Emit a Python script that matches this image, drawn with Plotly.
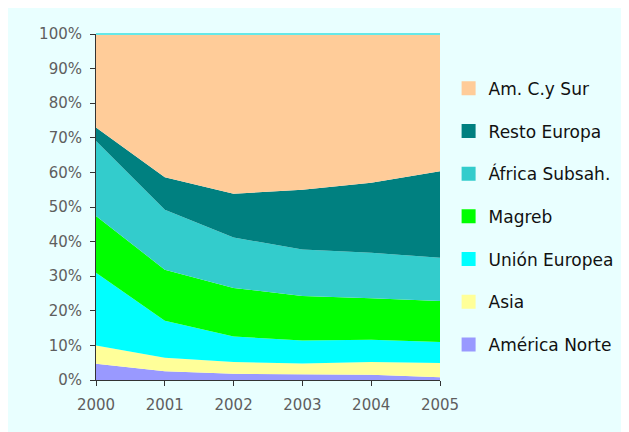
import plotly.graph_objects as go

years = [2000, 2001, 2002, 2003, 2004, 2005]

# shares per origin (%), bottom of the stack first
america_norte = [4.7, 2.5, 1.8, 1.6, 1.5, 0.8]
asia = [5.3, 3.9, 3.4, 3.2, 3.7, 4.1]
union_europea = [21.0, 10.7, 7.4, 6.6, 6.4, 6.1]
magreb = [16.4, 14.8, 14.0, 12.9, 12.0, 11.8]
africa_subsah = [21.7, 17.3, 14.6, 13.4, 13.2, 12.5]
resto_europa = [3.9, 9.4, 12.6, 17.3, 20.2, 25.0]
am_cy_sur = [27.0, 41.4, 46.2, 45.0, 43.0, 39.7]

series = [
    ("América Norte", america_norte, "#9999ff"),
    ("Asia", asia, "#ffff99"),
    ("Unión Europea", union_europea, "#00ffff"),
    ("Magreb", magreb, "#00ff00"),
    ("África Subsah.", africa_subsah, "#33cccc"),
    ("Resto Europa", resto_europa, "#008080"),
    ("Am. C.y Sur", am_cy_sur, "#ffcc99"),
]

fig = go.Figure()

for name, values, color in series:
    fig.add_trace(
        go.Scatter(
            x=years,
            y=values,
            name=name,
            mode="lines",
            stackgroup="one",
            groupnorm="percent",
            line={"width": 0, "color": color},
            fillcolor=color,
            showlegend=False,
        )
    )

# square legend entries, top of the stack listed first
for name, values, color in reversed(series):
    fig.add_trace(
        go.Scatter(
            x=[None],
            y=[None],
            name=name,
            mode="markers",
            marker={"symbol": "square", "size": 14, "color": color},
            legendgroup=name,
            showlegend=True,
        )
    )

# top edge line of the plot area
fig.add_shape(
    type="line", xref="paper", yref="paper",
    x0=0, x1=1, y0=1, y1=1,
    line={"color": "#66e8e8", "width": 2},
)

axis_style = {
    "showgrid": False,
    "zeroline": False,
    "showline": True,
    "linecolor": "#333333",
    "linewidth": 1,
    "ticks": "outside",
    "ticklen": 5,
    "tickcolor": "#333333",
    "tickfont": {"size": 15, "color": "#5e5e5e"},
}

fig.update_layout(
    width=621,
    height=424,
    margin={"l": 88, "r": 189, "t": 26, "b": 52, "autoexpand": False},
    paper_bgcolor="#e9ffff",
    plot_bgcolor="white",
    font={"family": "DejaVu Sans", "color": "#111111"},
    legend={
        "x": 1.025,
        "xanchor": "left",
        "y": 0.894,
        "yanchor": "top",
        "traceorder": "grouped",
        "tracegroupgap": 17.6,
        "font": {"size": 17, "color": "#111111"},
        "bgcolor": "rgba(0,0,0,0)",
    },
    xaxis={"range": [2000, 2005], "dtick": 1, "ticklabelstandoff": 6, **axis_style},
    yaxis={"range": [0, 100], "dtick": 10, "ticksuffix": "%", "ticklabelstandoff": 5, **axis_style},
)

fig.write_html("out.html")
